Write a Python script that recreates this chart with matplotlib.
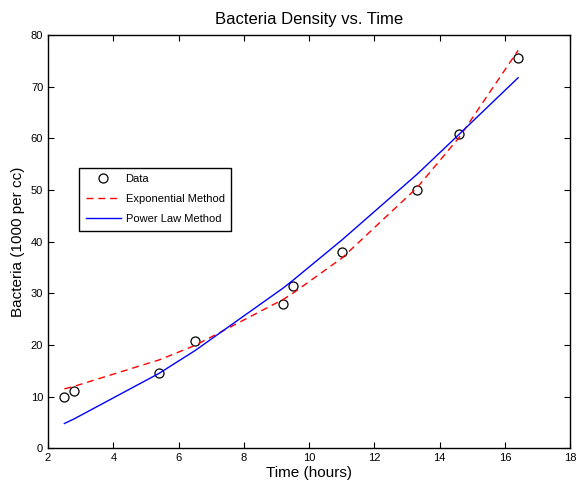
import numpy as np
import matplotlib
matplotlib.use("Agg")
import matplotlib.pyplot as plt

plt.rcParams['font.family'] = ['Liberation Sans', 'DejaVu Sans']

# data
time_h = [2.5, 2.8, 5.4, 6.5, 9.2, 9.5, 11.0, 13.3, 14.6, 16.4]
bacteria = [10.0, 11.1, 14.6, 20.8, 28.0, 31.5, 38.0, 49.9, 60.8, 75.6]
exp_fit = [11.5, 12.0, 17.1, 19.9, 28.8, 30.0, 36.8, 50.4, 60.2, 77.0]
pow_fit = [4.8, 5.7, 14.5, 18.9, 31.0, 32.5, 40.3, 53.0, 60.8, 71.7]

fig = plt.figure(figsize=(5.79, 4.83), dpi=100)
ax = fig.add_axes([0.083, 0.0718, 0.902, 0.856])

ax.plot(time_h, bacteria, 'o', mfc='none', mec='black', ms=6.5, mew=0.9, label="Data")
ax.plot(time_h, exp_fit, color="red", lw=1, linestyle=(0, (5, 3.5)), label="Exponential Method")
ax.plot(time_h, pow_fit, color="blue", lw=1, label="Power Law Method")

ax.set_xlim(2, 18)
ax.set_ylim(0, 80)
ax.set_xticks(np.arange(2, 19, 2))
ax.set_yticks(np.arange(0, 81, 10))
ax.tick_params(direction='in', top=True, right=True, labelsize=8, length=4)
for sp in ax.spines.values():
    sp.set_linewidth(1)

ax.set_title("Bacteria Density vs. Time", fontsize=12, pad=8)
ax.set_xlabel("Time (hours)", fontsize=11, labelpad=2)
ax.set_ylabel("Bacteria (1000 per cc)", fontsize=11, labelpad=4)

leg = ax.legend(loc='lower left', bbox_to_anchor=(0.059, 0.526), borderaxespad=0,
                fontsize=8, fancybox=False, edgecolor='black', framealpha=1,
                handlelength=3.2, handletextpad=0.4, borderpad=0.6, labelspacing=0.9)
leg.get_frame().set_linewidth(1)

fig.savefig("out.png", dpi=100)
